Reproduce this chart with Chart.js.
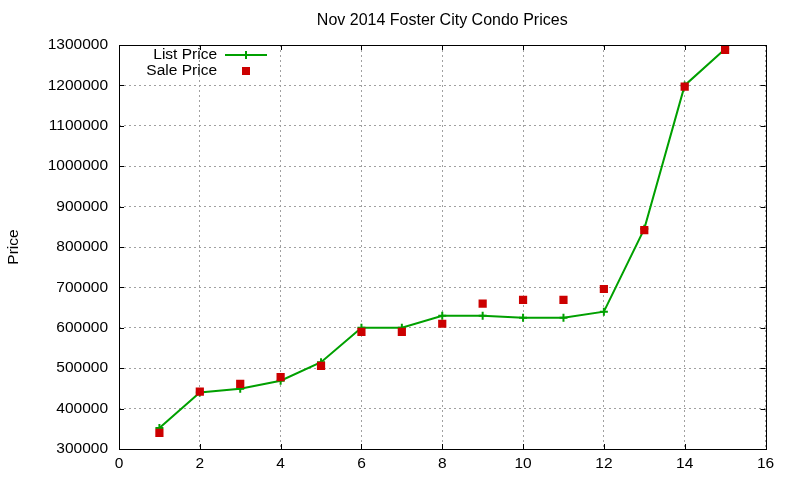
<!DOCTYPE html>
<html>
<head>
<meta charset="utf-8">
<script src="https://cdn.jsdelivr.net/npm/chart.js@4.4.1/dist/chart.umd.min.js"></script>
<style>
  html, body { margin: 0; padding: 0; background: #fff; }
  canvas { display: block; }
</style>
</head>
<body>
<canvas id="condo_chart" width="800" height="480"></canvas>
<script>
const chartTitle = 'Nov 2014 Foster City Condo Prices';
const xValues = [1, 2, 3, 4, 5, 6, 7, 8, 9, 10, 11, 12, 13, 14, 15];
const listPrice = [352000, 440000, 449000, 469000, 515000, 600000, 600000, 630000, 630000, 625000, 625000, 640000, 845000, 1200000, 1290000];
const salePrice = [340000, 442000, 461000, 478000, 506000, 590000, 590000, 610000, 660000, 669000, 669000, 696000, 842000, 1197000, 1288000];
const seriesNames = ['List Price', 'Sale Price'];

const FONT = '"Liberation Sans", Arial, sans-serif';
const FONT_SIZE = 15.5;
const green = 'rgb(0, 160, 0)';
const red = 'rgb(204, 0, 0)';

// gnuplot style box with inward ticks on all four sides
const frame = {
    id: 'frame',
    afterDatasetsDraw(chart) {
        const c = chart.ctx;
        const a = chart.chartArea;
        const xs = chart.scales.x, ys = chart.scales.y;
        c.save();
        c.strokeStyle = '#000';
        c.lineWidth = 1;
        c.beginPath();
        xs.ticks.forEach((t) => {
            const px = Math.round(xs.getPixelForValue(t.value)) + 0.5;
            c.moveTo(px, a.bottom); c.lineTo(px, a.bottom - 5);
            c.moveTo(px, a.top); c.lineTo(px, a.top + 5);
        });
        ys.ticks.forEach((t) => {
            const py = Math.round(ys.getPixelForValue(t.value)) + 0.5;
            c.moveTo(a.left, py); c.lineTo(a.left + 5, py);
            c.moveTo(a.right, py); c.lineTo(a.right - 5, py);
        });
        c.stroke();
        c.strokeRect(Math.round(a.left) + 0.5, Math.round(a.top) + 0.5,
            Math.round(a.right - a.left), Math.round(a.bottom - a.top));

        // key, top left inside the plot
        c.font = FONT_SIZE + 'px ' + FONT;
        c.fillStyle = '#000';
        c.textAlign = 'right';
        c.textBaseline = 'middle';
        c.fillText(seriesNames[0], 217, 55);
        c.fillText(seriesNames[1], 217, 71);
        c.strokeStyle = green;
        c.lineWidth = 2;
        c.beginPath();
        c.moveTo(225, 55); c.lineTo(267, 55);
        c.moveTo(246, 51); c.lineTo(246, 59);
        c.stroke();
        c.fillStyle = red;
        c.fillRect(242, 67, 8, 8);
        c.restore();
    }
};

const ctx = document.getElementById('condo_chart').getContext('2d');

const condoChart = new Chart(ctx, {
    type: 'line',
    data: {
        datasets: [{
            label: seriesNames[0],
            data: xValues.map((x, i) => ({ x: x, y: listPrice[i] })),
            borderColor: green,
            backgroundColor: green,
            borderWidth: 2,
            tension: 0,
            pointStyle: 'cross',
            pointRadius: 4,
            pointBorderWidth: 2,
            pointBorderColor: green,
            order: 2
        }, {
            label: seriesNames[1],
            data: xValues.map((x, i) => ({ x: x, y: salePrice[i] })),
            showLine: false,
            borderColor: red,
            backgroundColor: red,
            pointStyle: 'rect',
            pointRadius: 5.8,
            pointBorderWidth: 0,
            order: 1
        }]
    },
    options: {
        responsive: false,
        animation: false,
        devicePixelRatio: 1,
        layout: { padding: { left: 0, right: 34.5, top: 0, bottom: 0 } },
        plugins: {
            legend: { display: false },
            tooltip: { enabled: false },
            title: {
                display: true,
                text: chartTitle,
                fullSize: false,
                color: '#000',
                font: { family: FONT, size: 16, weight: 'normal' },
                padding: { top: 11.4, bottom: 14.4 }
            }
        },
        scales: {
            x: {
                type: 'linear',
                min: 0,
                max: 16,
                afterFit: (s) => { s.height = 31; },
                ticks: {
                    stepSize: 2,
                    color: '#000',
                    padding: 5,
                    maxRotation: 0,
                    font: { family: FONT, size: FONT_SIZE }
                },
                grid: { color: '#a0a0a0', drawTicks: false },
                border: { display: false, dash: [2, 3] }
            },
            y: {
                min: 300000,
                max: 1300000,
                afterFit: (s) => { s.width = 119; },
                ticks: {
                    stepSize: 100000,
                    color: '#000',
                    padding: 11,
                    font: { family: FONT, size: FONT_SIZE },
                    callback: (v) => String(v)
                },
                grid: { color: '#a0a0a0', drawTicks: false },
                border: { display: false, dash: [2, 3] },
                title: {
                    display: true,
                    text: 'Price',
                    color: '#000',
                    font: { family: FONT, size: FONT_SIZE }
                }
            }
        }
    },
    plugins: [frame]
});
</script>
</body>
</html>
